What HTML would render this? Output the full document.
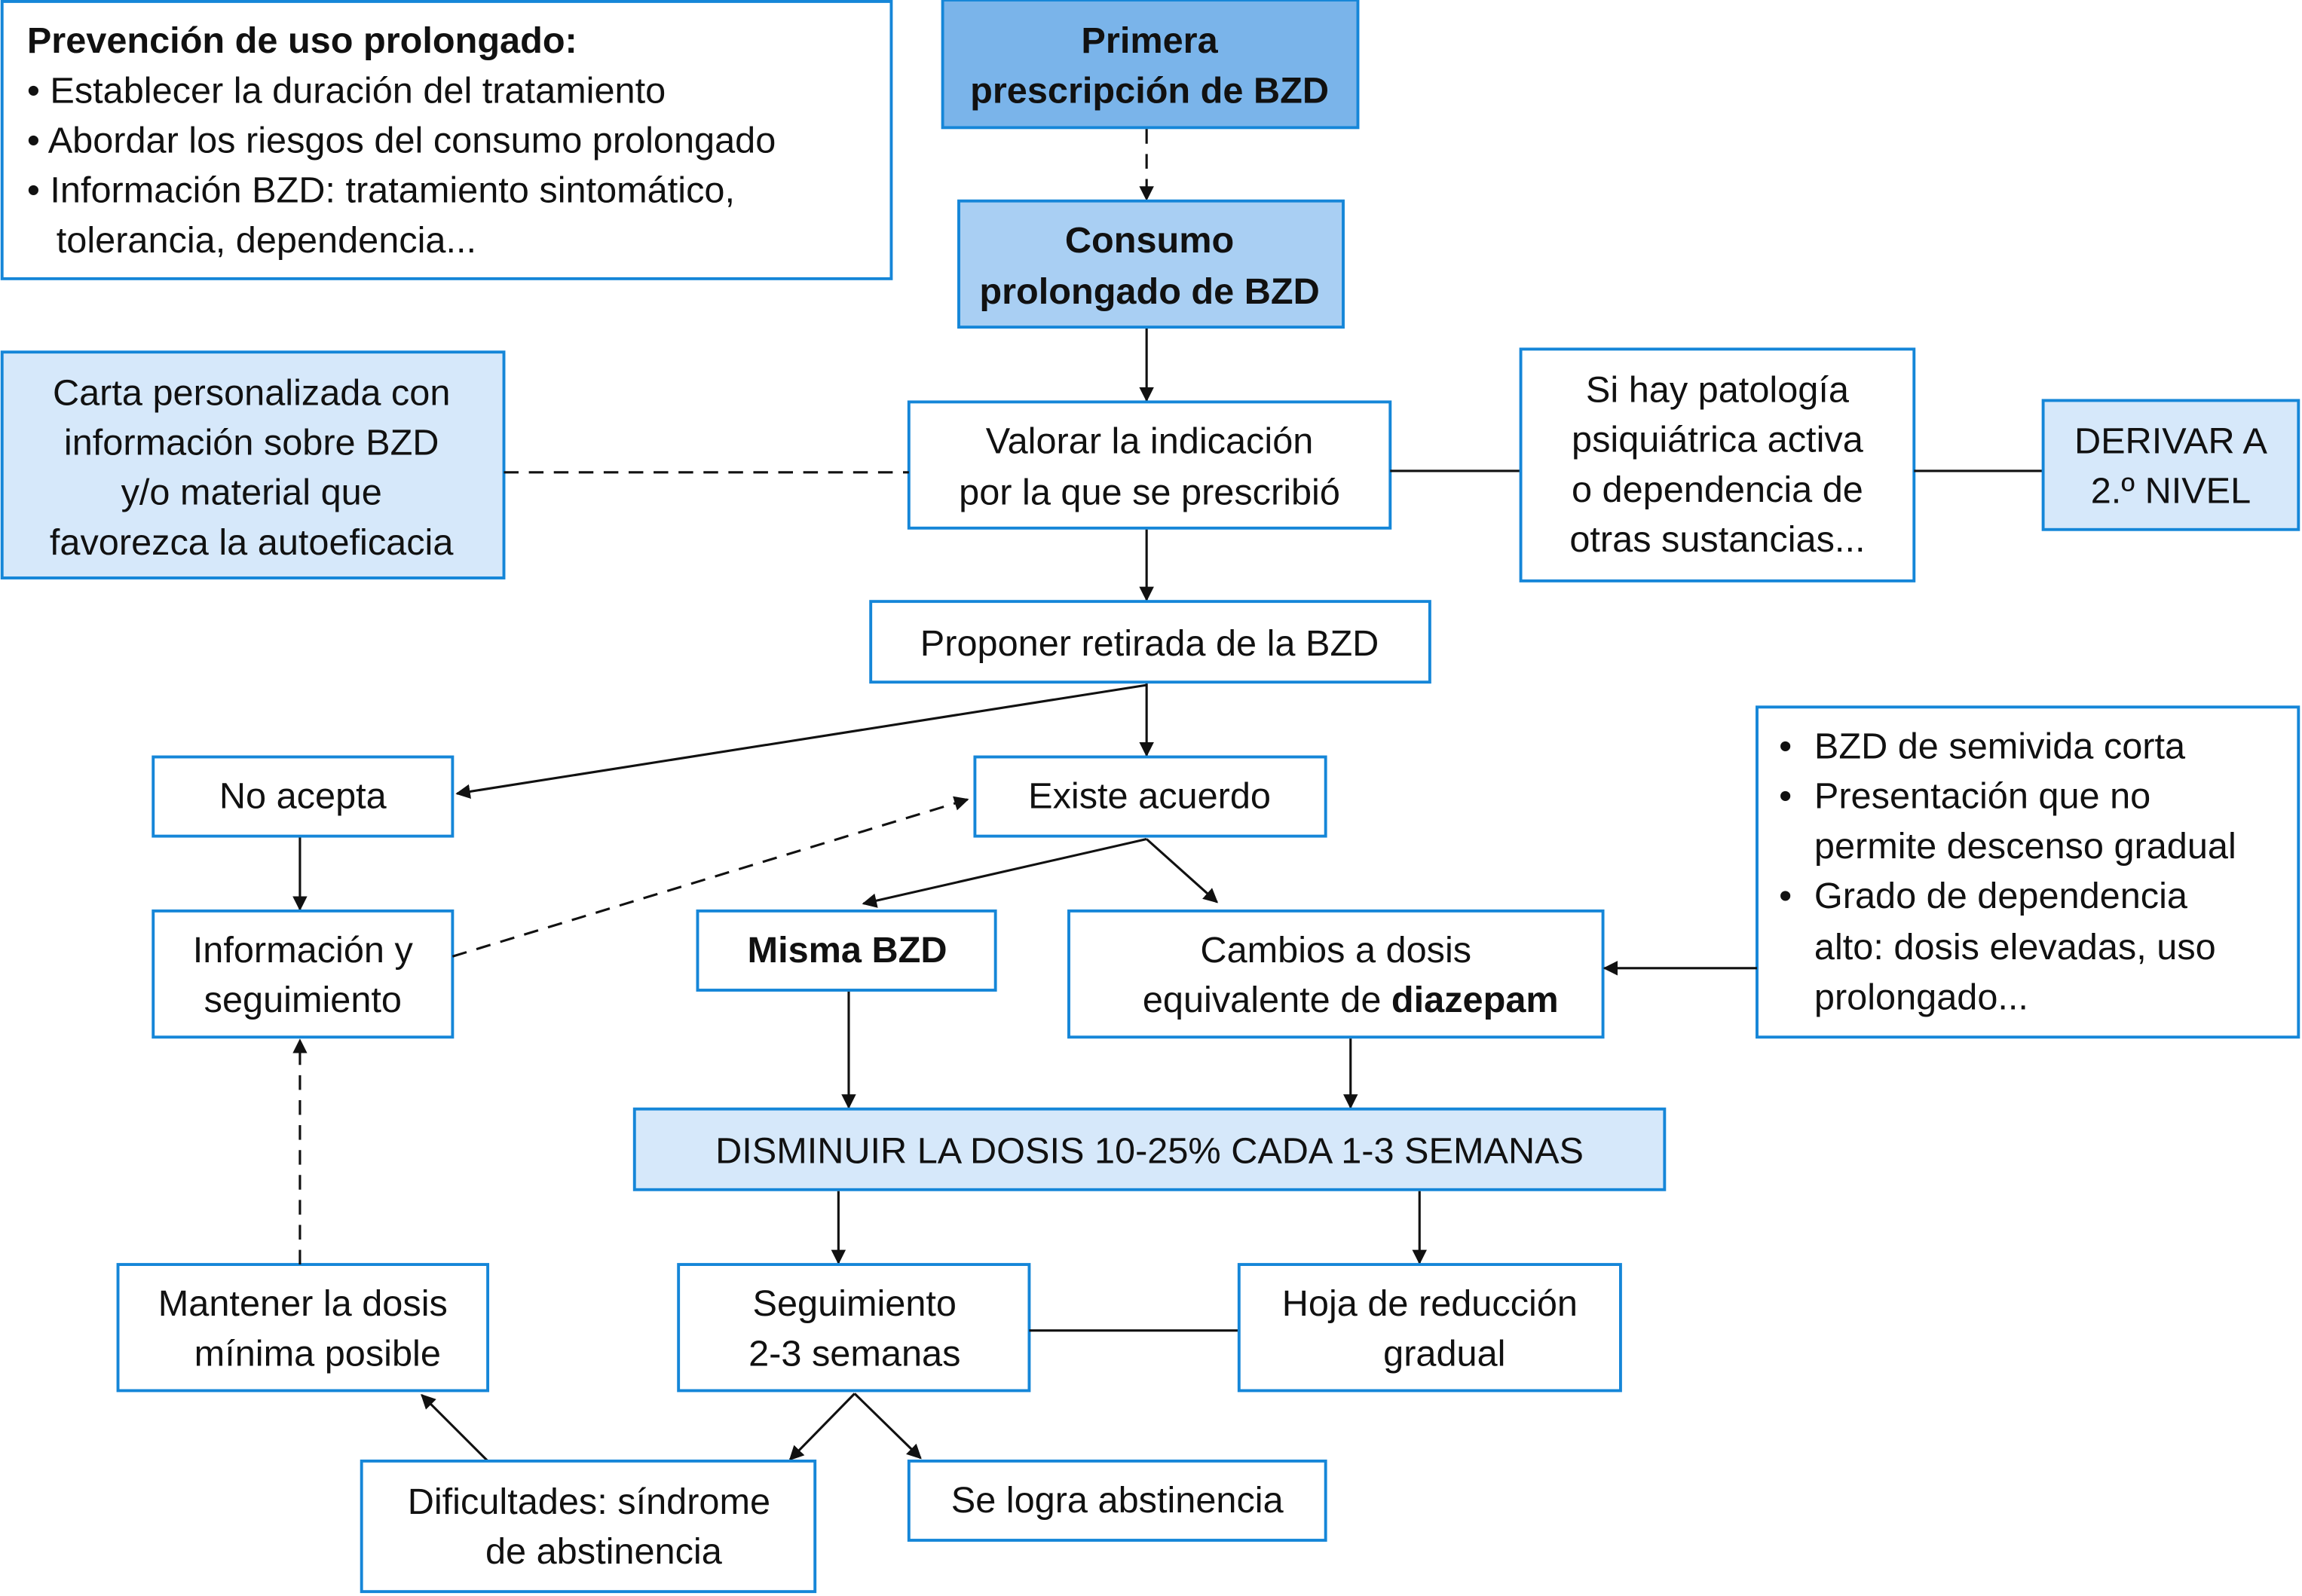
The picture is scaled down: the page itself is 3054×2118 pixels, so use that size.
<!DOCTYPE html>
<html><head><meta charset="utf-8"><style>
html,body{margin:0;padding:0;background:#fff;width:3054px;height:2118px;overflow:hidden}
svg{display:block}
text{font-family:"Liberation Sans",sans-serif;font-size:25px;fill:#111}
.c{text-anchor:middle}
.b{font-weight:bold}
rect{stroke:#1586d8;stroke-width:2}
.ln{stroke:#111;stroke-width:1.6;fill:none}
.d{stroke-dasharray:10 7}
</style></head><body>
<svg width="3054" height="2118" viewBox="0 0 1568 1088" xmlns="http://www.w3.org/2000/svg">
<defs><marker id="a" viewBox="0 0 10 10" refX="9" refY="5" markerWidth="10" markerHeight="10" markerUnits="userSpaceOnUse" orient="auto"><path d="M0,0L10,5L0,10z" fill="#111"/></marker></defs>

<rect x="1" y="1" width="606" height="189" fill="#fff"/>
<text x="18" y="36" class="b">Prevención de uso prolongado:</text>
<text x="18" y="70">• Establecer la duración del tratamiento</text>
<text x="18" y="104">• Abordar los riesgos del consumo prolongado</text>
<text x="18" y="138">• Información BZD: tratamiento sintomático,</text>
<text x="38" y="172">tolerancia, dependencia...</text>

<rect x="642" y="0" width="283" height="87" fill="#7ab4ea" stroke="none"/>
<text x="783" y="36" class="c b">Primera</text>
<text x="783" y="70" class="c b">prescripción de BZD</text>
<line x1="781" y1="88" x2="781" y2="136" class="ln d" marker-end="url(#a)"/>

<rect x="653" y="137" width="262" height="86" fill="#a9cff3" stroke="none"/>
<text x="783" y="172" class="c b">Consumo</text>
<text x="783" y="207" class="c b">prolongado de BZD</text>
<line x1="781" y1="224" x2="781" y2="273" class="ln" marker-end="url(#a)"/>

<rect x="619" y="274" width="328" height="86" fill="#fff"/>
<text x="783" y="309" class="c">Valorar la indicación</text>
<text x="783" y="344" class="c">por la que se prescribió</text>

<rect x="1" y="240" width="342" height="154" fill="#d6e8fa"/>
<text x="171" y="276" class="c">Carta personalizada con</text>
<text x="171" y="310" class="c">información sobre BZD</text>
<text x="171" y="344" class="c">y/o material que</text>
<text x="171" y="378" class="c">favorezca la autoeficacia</text>
<line x1="343" y1="322" x2="619" y2="322" class="ln d"/>

<line x1="947" y1="321" x2="1036" y2="321" class="ln"/>
<rect x="1036" y="238" width="268" height="158" fill="#fff"/>
<text x="1170" y="274" class="c">Si hay patología</text>
<text x="1170" y="308" class="c">psiquiátrica activa</text>
<text x="1170" y="342" class="c">o dependencia de</text>
<text x="1170" y="376" class="c">otras sustancias...</text>
<line x1="1304" y1="321" x2="1392" y2="321" class="ln"/>
<rect x="1392" y="273" width="174" height="88" fill="#d6e8fa"/>
<text x="1479" y="309" class="c">DERIVAR A</text>
<text x="1479" y="343" class="c">2.º NIVEL</text>

<line x1="781" y1="361" x2="781" y2="409" class="ln" marker-end="url(#a)"/>
<rect x="593" y="410" width="381" height="55" fill="#fff"/>
<text x="783" y="447" class="c">Proponer retirada de la BZD</text>
<line x1="781" y1="466" x2="781" y2="515" class="ln" marker-end="url(#a)"/>
<line x1="781" y1="467" x2="311" y2="541" class="ln" marker-end="url(#a)"/>

<rect x="104" y="516" width="204" height="54" fill="#fff"/>
<text x="206" y="551" class="c">No acepta</text>
<rect x="664" y="516" width="239" height="54" fill="#fff"/>
<text x="783" y="551" class="c">Existe acuerdo</text>
<line x1="204" y1="571" x2="204" y2="620" class="ln" marker-end="url(#a)"/>

<rect x="104" y="621" width="204" height="86" fill="#fff"/>
<text x="206" y="656" class="c">Información y</text>
<text x="206" y="690" class="c">seguimiento</text>
<line x1="308" y1="652" x2="659" y2="545" class="ln d" marker-end="url(#a)"/>

<line x1="781" y1="572" x2="588" y2="616" class="ln" marker-end="url(#a)"/>
<line x1="781" y1="572" x2="829" y2="615" class="ln" marker-end="url(#a)"/>

<rect x="475" y="621" width="203" height="54" fill="#fff"/>
<text x="577" y="656" class="c b">Misma BZD</text>
<rect x="728" y="621" width="364" height="86" fill="#fff"/>
<text x="910" y="656" class="c">Cambios a dosis</text>
<text x="920" y="690" class="c">equivalente de <tspan class="b">diazepam</tspan></text>

<rect x="1197" y="482" width="369" height="225" fill="#fff"/>
<text x="1212" y="517">•</text><text x="1236" y="517">BZD de semivida corta</text>
<text x="1212" y="551">•</text><text x="1236" y="551">Presentación que no</text>
<text x="1236" y="585">permite descenso gradual</text>
<text x="1212" y="619">•</text><text x="1236" y="619">Grado de dependencia</text>
<text x="1236" y="654">alto: dosis elevadas, uso</text>
<text x="1236" y="688">prolongado...</text>
<line x1="1197" y1="660" x2="1093" y2="660" class="ln" marker-end="url(#a)"/>

<line x1="578" y1="676" x2="578" y2="755" class="ln" marker-end="url(#a)"/>
<line x1="920" y1="708" x2="920" y2="755" class="ln" marker-end="url(#a)"/>
<rect x="432" y="756" width="702" height="55" fill="#d6e8fa"/>
<text x="783" y="793" class="c">DISMINUIR LA DOSIS 10-25% CADA 1-3 SEMANAS</text>
<line x1="571" y1="812" x2="571" y2="861" class="ln" marker-end="url(#a)"/>
<line x1="967" y1="812" x2="967" y2="861" class="ln" marker-end="url(#a)"/>

<rect x="80" y="862" width="252" height="86" fill="#fff"/>
<text x="206" y="897" class="c">Mantener la dosis</text>
<text x="216" y="931" class="c">mínima posible</text>
<line x1="204" y1="862" x2="204" y2="709" class="ln d" marker-end="url(#a)"/>

<rect x="462" y="862" width="239" height="86" fill="#fff"/>
<text x="582" y="897" class="c">Seguimiento</text>
<text x="582" y="931" class="c">2-3 semanas</text>
<line x1="701" y1="907" x2="844" y2="907" class="ln"/>
<rect x="844" y="862" width="260" height="86" fill="#fff"/>
<text x="974" y="897" class="c">Hoja de reducción</text>
<text x="984" y="931" class="c">gradual</text>

<line x1="582" y1="950" x2="538" y2="995" class="ln" marker-end="url(#a)"/>
<line x1="582" y1="950" x2="627" y2="994" class="ln" marker-end="url(#a)"/>
<line x1="332" y1="996" x2="287" y2="951" class="ln" marker-end="url(#a)"/>

<rect x="246" y="996" width="309" height="89" fill="#fff"/>
<text x="401" y="1032" class="c">Dificultades: síndrome</text>
<text x="411" y="1066" class="c">de abstinencia</text>
<rect x="619" y="996" width="284" height="54" fill="#fff"/>
<text x="761" y="1031" class="c">Se logra abstinencia</text>
</svg>
</body></html>
